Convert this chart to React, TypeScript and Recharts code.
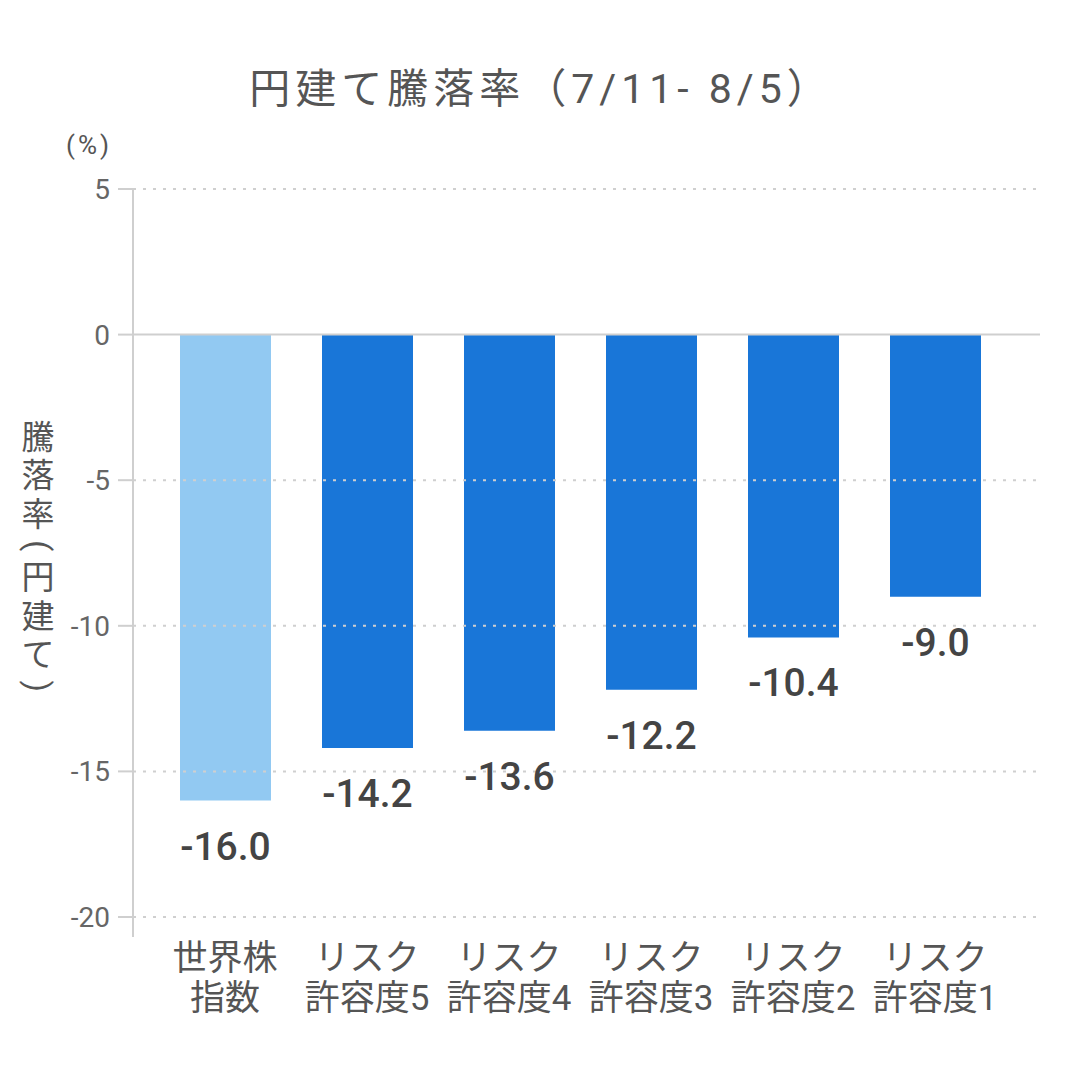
import { BarChart, Bar, XAxis, YAxis, Cell, LabelList, ReferenceLine, Customized } from 'recharts';

const categories = ['世界株\n指数', 'リスク\n許容度5', 'リスク\n許容度4', 'リスク\n許容度3', 'リスク\n許容度2', 'リスク\n許容度1'];
const returns = [-16.0, -14.2, -13.6, -12.2, -10.4, -9.0];
const yTicks = [5, 0, -5, -10, -15, -20];
const title = '円建て騰落率（7/11- 8/5）';
const yTitle = ['騰', '落', '率', '(', '円', '建', 'て', ')'];

const data = categories.map((name, i) => ({ name, value: returns[i] }));

const FONT = "Roboto, 'Noto Sans CJK JP', sans-serif";
const LIGHT = '#92C9F2';
const DARK = '#1976D8';
const GRID = '#cfcfcf';

function CategoryTick({ x, y, payload }: any) {
  const lines = String(payload.value).split('\n');
  return (
    <g>
      {lines.map((line, i) => (
        <text
          key={i}
          x={x}
          y={y + 21 + i * 40}
          textAnchor="middle"
          dominantBaseline="central"
          fontSize={35}
          fill="#555"
          fontFamily={FONT}
        >
          {line}
        </text>
      ))}
    </g>
  );
}

function ValueLabel({ x, y, width, height, value }: any) {
  const bottom = Math.max(y, y + height);
  return (
    <text
      x={x + width / 2}
      y={bottom + 46}
      textAnchor="middle"
      dominantBaseline="central"
      fontSize={39}
      fontWeight={500}
      fill="#444"
      fontFamily={FONT}
    >
      {Number(value).toFixed(1)}
    </text>
  );
}

function VerticalTitle() {
  // stack the characters top to bottom; brackets turned sideways
  let cy = 437;
  const items = yTitle.map((ch, i) => {
    const paren = ch === '(' || ch === ')';
    if (i > 0) {
      const prevParen = yTitle[i - 1] === '(' || yTitle[i - 1] === ')';
      cy += (prevParen ? 12.5 : 19.25) + (paren ? 12.5 : 19.25);
    }
    return paren ? (
      <text
        key={i}
        x={38}
        y={cy}
        transform={`rotate(90 38 ${cy})`}
        textAnchor="middle"
        dominantBaseline="central"
        fontSize={33}
        fill="#555"
      >
        {ch}
      </text>
    ) : (
      <text key={i} x={38} y={cy} textAnchor="middle" dominantBaseline="central" fontSize={33} fill="#555">
        {ch}
      </text>
    );
  });
  return <g fontFamily={FONT}>{items}</g>;
}

function Annotations() {
  return (
    <g fontFamily={FONT}>
      <text
        x={541}
        y={89}
        textAnchor="middle"
        dominantBaseline="central"
        fontSize={41}
        letterSpacing={5}
        fill="#555"
      >
        {title}
      </text>
      <text x={89} y={145} textAnchor="middle" dominantBaseline="central" fontSize={26} letterSpacing={3} fill="#555">
        (%)
      </text>
      <VerticalTitle />
    </g>
  );
}

export default function App() {
  return (
    <div style={{ position: 'absolute', left: 0, top: 0, width: 1080, height: 1080, background: '#fff' }}>
      <BarChart width={1080} height={1080} data={data} margin={{ top: 189, right: 40, bottom: 43, left: 0 }}>
        <XAxis
          dataKey="name"
          axisLine={false}
          tickLine={false}
          tickSize={0}
          tickMargin={0}
          height={100}
          interval={0}
          padding={{ left: 21, right: 34 }}
          tick={<CategoryTick />}
        />
        <YAxis
          type="number"
          domain={[-20, 5]}
          ticks={yTicks}
          interval={0}
          width={133}
          padding={{ top: 0, bottom: 20 }}
          axisLine={{ stroke: GRID, strokeWidth: 2 }}
          tickLine={{ stroke: GRID, strokeWidth: 2 }}
          tickSize={15}
          tickMargin={8}
          tick={{ fontSize: 28, fill: '#666', fontFamily: FONT }}
        />
        {yTicks.map((t) => (
          <ReferenceLine
            key={t}
            y={t}
            stroke={GRID}
            strokeWidth={2}
            strokeDasharray={t === 0 ? undefined : '3 7'}
          />
        ))}
        <Bar dataKey="value" barSize={91} isAnimationActive={false}>
          {data.map((_, i) => (
            <Cell key={i} fill={i === 0 ? LIGHT : DARK} />
          ))}
          <LabelList dataKey="value" content={<ValueLabel />} />
        </Bar>
        <Customized component={Annotations} />
      </BarChart>
    </div>
  );
}
